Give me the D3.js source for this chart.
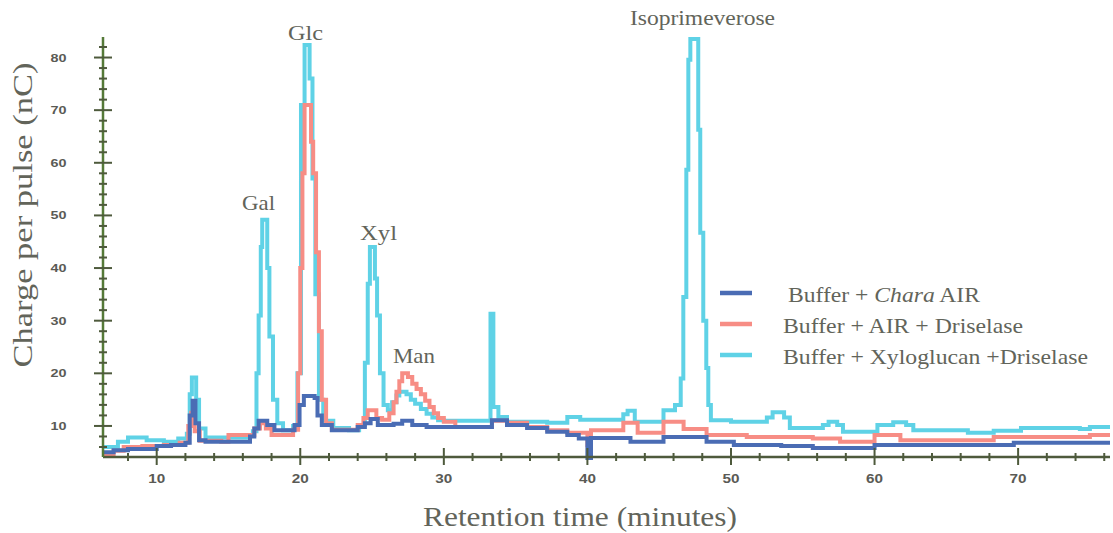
<!DOCTYPE html>
<html><head><meta charset="utf-8">
<script src="https://cdn.jsdelivr.net/npm/d3@7"></script>
<style>body{margin:0;background:#fff}svg{display:block}</style>
</head><body>
<svg id="c" width="1113" height="533"></svg>
<script>
// ---- data (minutes, nC), step traces ----
const cyanTime = [6.3,7.3,8.0,9.3,10.5,11.5,12.1,12.3,12.45,12.75,12.95,13.4,14.5,16.3,16.7,16.95,17.1,17.25,17.35,17.7,17.85,18.1,18.4,18.8,19.5,19.8,20.05,20.3,20.65,20.85,21.05,21.3,21.6,22.3,23.4,24.1,24.5,24.7,24.85,25.2,25.35,25.55,25.8,26.1,26.4,26.7,26.9,27.4,27.7,28.0,28.4,28.8,29.2,29.6,30.0,33.25,33.45,33.8,34.4,35.8,37.2,38.6,39.5,42.5,42.8,43.3,45.3,46.1,46.5,46.68,46.89,47.03,47.17,47.72,47.86,48.07,48.28,48.42,48.6,50.0,52.5,52.9,53.7,54.1,56.4,56.8,57.4,57.8,60.2,61.3,62.2,62.7,66.5,68.3,70.2,74.3,75.0,76.4];
const cyanVals = [6.0,7.0,7.8,7.3,7.0,7.6,8.5,16,19.2,15,9.5,7.8,7.8,8.3,9,20,31,44,49.2,40,27,15,10.5,9.2,10,20,71,82.4,76,57,35,15,11,9.6,9.2,10.2,22,37,44,38,31,20,14,13,14.5,15.8,16.5,16,15,14.2,13.2,12.3,11.6,11.1,11,31.3,13.6,11.7,10.8,10.8,10.6,11.7,11.2,12.2,12.9,10.8,13,14,19,34.5,58.7,79.6,83.5,66.3,46.7,30,21,14,11.1,10.8,11.6,12.6,11.6,9.6,10.2,10.8,10.2,8.9,10.2,10.7,10.2,9.2,8.7,9.1,9.6,9.4,9.8,9.8];

const redTime = [6.3,7.0,7.7,9.0,10.5,11.6,12.2,12.4,12.65,13.0,14.5,15.0,16.5,16.8,17.2,17.6,18.0,19.5,19.85,20.0,20.15,20.3,20.75,20.9,21.1,21.3,21.5,21.8,22.2,24.0,24.4,24.7,25.3,25.7,26.2,26.5,26.7,26.9,27.1,27.5,27.8,28.1,28.4,28.7,29.0,29.3,29.6,30.0,30.8,33.35,34.4,35.8,37.2,38.6,40.0,40.25,42.5,43.5,45.3,46.7,48.3,51.1,55.7,57.6,60.0,61.8,68.3,75.0,76.4];
const redVals = [4.6,5.3,6.0,6.2,6.4,6.8,10,12.5,9,7.2,7.0,8.3,8.3,9.5,10.5,9.5,8.3,9.3,20,40,58,71,64,58,43,28,15,10.5,9.3,10.2,11.5,13,11.5,11.2,12.4,14.5,16.5,18.5,20,19.3,18,17,16,14.8,13.6,12.4,11.5,10.8,9.8,11,10.6,9.8,9.2,8.7,6.4,9.2,10.6,8.7,10.8,9.4,8.3,7.9,7.6,7.0,8.3,7.3,7.9,8.3,8.3];

const blueTime = [6.3,7.0,8.0,10.0,11.0,12.0,12.3,12.5,12.7,12.95,13.4,16.5,16.8,17.1,17.7,18.2,19.6,19.95,20.25,21.0,21.2,21.5,22.2,24.0,24.5,24.9,25.4,26.5,27.1,27.8,28.8,33.35,34.4,35.8,37.2,38.6,39.4,40.0,40.25,43.0,45.3,48.3,50.2,53.5,55.7,60.0,69.7,76.4];
const blueVals = [5.0,5.4,5.6,6.2,6.4,6.8,12,14.8,10.5,7.3,7.0,8.0,9.5,11,10.2,9.2,10.2,14,15.7,15.3,12,10.2,9.2,9.8,10.5,11.3,10.2,10.4,11,10.2,9.8,11.1,10.2,9.6,8.9,8.3,7.6,3.9,7.7,7.0,7.9,7.0,6.4,6.2,5.8,6.4,6.8,6.8];

const xMajor = [10,20,30,40,50,60,70];
const xMinor = [8,12,14,16,18,22,24,26,28,32,34,36,38,42,44,46,48,52,54,56,58,62,64,66,68,72,74,76];
const yMajor = [10,20,30,40,50,60,70,80];
const yMinor = [6,8,12,14,16,18,22,24,26,28,32,34,36,38,42,44,46,48,52,54,56,58,62,64,66,68,72,74,76,78,82];

const seriesNames = ["Buffer + Chara AIR","Buffer + AIR + Driselase","Buffer + Xyloglucan +Driselase"];
const seriesColors = ["#4a6cb4","#f78d85","#5fd2e6"];
const peakNames = ["Gal","Glc","Xyl","Man","Isoprimeverose"];

// ---- drawing ----
const svg = d3.select("#c");
const x = d3.scaleLinear().domain([6.26,76.4]).range([103,1110]);
const y = d3.scaleLinear().domain([4.1,83.9]).range([457,37]);
const axisCol = "#4e5a3c", yAxisCol = "#557a38", txtCol = "#62645a";

const line = d3.line().x(d=>x(d[0])).y(d=>y(d[1])).curve(d3.curveStepAfter);
const series = [
  {t:cyanTime, v:cyanVals, c:seriesColors[2]},
  {t:redTime, v:redVals, c:seriesColors[1]},
  {t:blueTime, v:blueVals, c:seriesColors[0]}
];
series.forEach(s=>{
  const pts = s.t.map((t,i)=>[t,s.v[i]]);
  svg.append("path").attr("d", line(pts)).attr("fill","none")
    .attr("stroke", s.c).attr("stroke-width",4).attr("stroke-linejoin","miter");
});

// axes
const g = svg.append("g").attr("stroke",axisCol);
g.append("line").attr("x1",x.range()[0]).attr("x2",x.range()[1]).attr("y1",y.range()[0]).attr("y2",y.range()[0]).attr("stroke-width",2.5);
g.append("line").attr("x1",x.range()[0]).attr("x2",x.range()[0]).attr("y1",y.range()[0]).attr("y2",y.range()[1]).attr("stroke-width",2.5).attr("stroke",yAxisCol);
xMajor.forEach(v=>g.append("line").attr("x1",x(v)).attr("x2",x(v)).attr("y1",y.range()[0]-9).attr("y2",y.range()[0]+8).attr("stroke-width",2));
xMinor.forEach(v=>g.append("line").attr("x1",x(v)).attr("x2",x(v)).attr("y1",y.range()[0]-4).attr("y2",y.range()[0]+4).attr("stroke-width",2));
yMajor.forEach(v=>g.append("line").attr("y1",y(v)).attr("y2",y(v)).attr("x1",x.range()[0]-9).attr("x2",x.range()[0]+9).attr("stroke-width",2));
yMinor.forEach(v=>g.append("line").attr("y1",y(v)).attr("y2",y(v)).attr("x1",x.range()[0]-4).attr("x2",x.range()[0]+4).attr("stroke-width",2));

svg.selectAll(".xt").data(xMajor).enter().append("text")
  .attr("x",d=>x(d)).attr("y",483).attr("text-anchor","middle")
  .attr("font-family","Liberation Sans").attr("font-weight","bold").attr("font-size",12)
  .attr("textLength",17).attr("lengthAdjust","spacingAndGlyphs").attr("fill","#5a5a55").text(d=>d);
svg.selectAll(".yt").data(yMajor).enter().append("text")
  .attr("x",58.5).attr("y",d=>y(d)+4).attr("text-anchor","middle")
  .attr("font-family","Liberation Sans").attr("font-weight","bold").attr("font-size",11)
  .attr("textLength",16).attr("lengthAdjust","spacingAndGlyphs").attr("fill","#5a5a55").text(d=>d);

// titles
svg.append("text").attr("x",580).attr("y",526).attr("text-anchor","middle")
  .attr("font-family","Liberation Serif").attr("font-size",27).attr("fill",txtCol)
  .attr("textLength",314).attr("lengthAdjust","spacingAndGlyphs").text("Retention time (minutes)");
svg.append("text").attr("transform","translate(32,215) rotate(-90)").attr("text-anchor","middle")
  .attr("font-family","Liberation Serif").attr("font-size",27).attr("fill",txtCol)
  .attr("textLength",305).attr("lengthAdjust","spacingAndGlyphs").text("Charge per pulse (nC)");

// peak labels
const peakPos = [[258.5,210,33],[305.5,40,35],[378.5,240,37],[414,363,42],[702.5,25,145]];
peakNames.forEach((n,i)=>{
  svg.append("text").attr("x",peakPos[i][0]).attr("y",peakPos[i][1]).attr("text-anchor","middle")
    .attr("font-family","Liberation Serif").attr("font-size",21).attr("fill",txtCol)
    .attr("textLength",peakPos[i][2]).attr("lengthAdjust","spacingAndGlyphs").text(n);
});

// legend
const legY = [293,324,355], legTX = [788,783,783], legW = [192,240,305];
[0,1,2].forEach(i=>{
  svg.append("line").attr("x1",720).attr("x2",752).attr("y1",legY[i]).attr("y2",legY[i])
    .attr("stroke",seriesColors[i]).attr("stroke-width",4.5);
  const t = svg.append("text").attr("x",legTX[i]).attr("y",legY[i]+9)
    .attr("font-family","Liberation Serif").attr("font-size",21).attr("fill",txtCol)
    .attr("textLength",legW[i]).attr("lengthAdjust","spacingAndGlyphs");
  if(i===0){
    t.append("tspan").text("Buffer + ");
    t.append("tspan").attr("font-style","italic").text("Chara");
    t.append("tspan").text(" AIR");
  } else t.text(seriesNames[i]);
});
</script>
</body></html>
